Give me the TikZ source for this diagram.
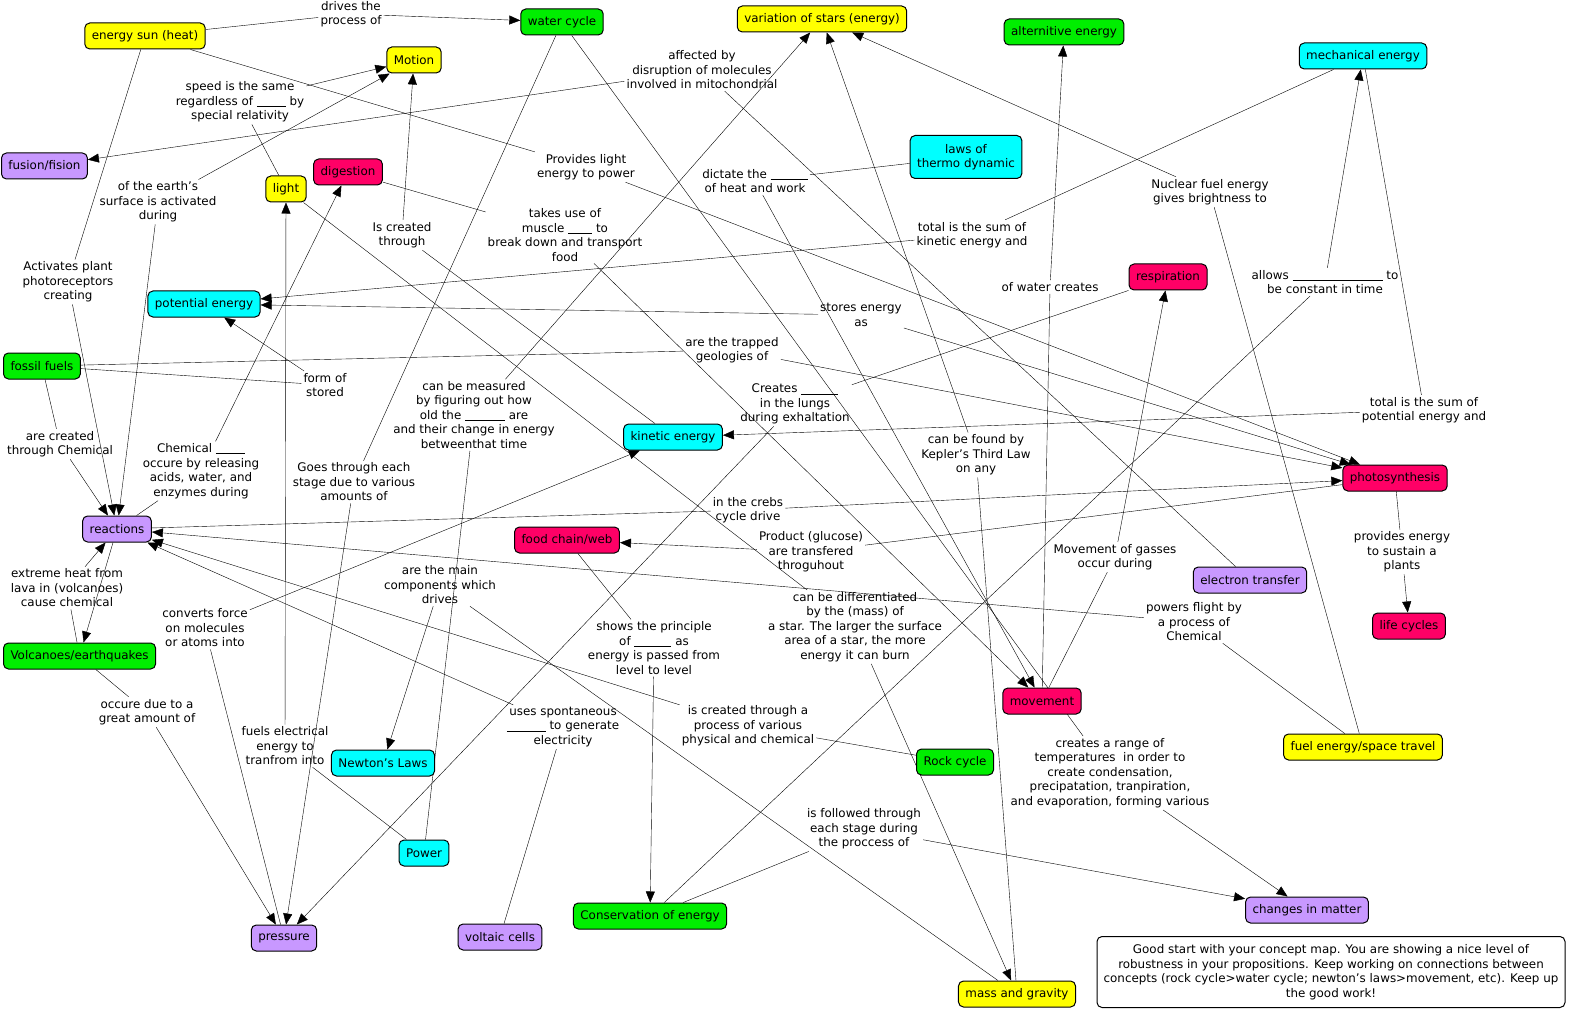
\documentclass[tikz,border=0pt]{standalone}
\usepackage{fontspec}
\setmainfont{DejaVu Sans}
\usetikzlibrary{arrows.meta,backgrounds}
\definecolor{cyellow}{RGB}{255,255,0}
\definecolor{cgreen}{RGB}{0,238,0}
\definecolor{ccyan}{RGB}{0,255,255}
\definecolor{cred}{RGB}{255,0,102}
\definecolor{cpurple}{RGB}{200,152,255}
\newcommand{\fillin}[1]{\rule[-1.5pt]{#1pt}{0.6pt}}
\tikzset{
  concept/.style={draw=black, line width=1pt, rounded corners=5pt, minimum height=26pt, inner xsep=7pt, inner ysep=2pt, align=center, font=\fontsize{11.9pt}{14.5pt}\selectfont},
  phrase/.style={align=center, inner sep=2pt, font=\fontsize{11.9pt}{14.5pt}\selectfont},
  note/.style={draw=black, line width=1pt, rounded corners=5pt, align=center, minimum width=468pt, minimum height=71pt, inner sep=2pt, font=\fontsize{11.9pt}{14.5pt}\selectfont},
  link/.style={line width=1.1pt}
}
\begin{document}
\begin{tikzpicture}[x=1pt, y=-1pt, >={Triangle[length=11pt,width=9pt]}]
\useasboundingbox (0,0) rectangle (1575,1011);
\begin{scope}
  \node [concept, fill=cyellow, name=sun] at (145,36) {energy sun (heat)};
  \node [concept, fill=cgreen, name=water] at (562,22) {water cycle};
  \node [concept, fill=cyellow, name=stars] at (822,19) {variation of stars (energy)};
  \node [concept, fill=cgreen, name=altern] at (1064,32) {alternitive energy};
  \node [concept, fill=ccyan, name=mech] at (1363,56) {mechanical energy};
  \node [concept, fill=cyellow, name=motion] at (414,60) {Motion};
  \node [concept, fill=cpurple, name=fusion, anchor=west] at (1,166) {fusion/fision};
  \node [concept, fill=cyellow, name=light] at (286,189) {light};
  \node [concept, fill=cred, name=digest] at (348,172) {digestion};
  \node [concept, fill=ccyan, name=thermo, minimum height=43pt] at (966,157) {laws of\\thermo dynamic};
  \node [concept, fill=ccyan, name=potential] at (204,304) {potential energy};
  \node [concept, fill=cred, name=resp] at (1168,277) {respiration};
  \node [concept, fill=cgreen, name=fossil, anchor=west] at (3,366) {fossil fuels};
  \node [concept, fill=ccyan, name=kinetic] at (673,437) {kinetic energy};
  \node [concept, fill=cred, name=photo] at (1395,478) {photosynthesis};
  \node [concept, fill=cpurple, name=reactions] at (117,529) {reactions};
  \node [concept, fill=cred, name=food] at (567,540) {food chain/web};
  \node [concept, fill=cpurple, name=electron] at (1250,580) {electron transfer};
  \node [concept, fill=cred, name=life] at (1409,626) {life cycles};
  \node [concept, fill=cgreen, name=volcano, anchor=west] at (3,656) {Volcanoes/earthquakes};
  \node [concept, fill=cred, name=movement] at (1042,701) {movement};
  \node [concept, fill=cgreen, name=rock] at (955,762) {Rock cycle};
  \node [concept, fill=cyellow, name=fuel] at (1363,747) {fuel energy/space travel};
  \node [concept, fill=ccyan, name=newton] at (383,763) {Newton's Laws};
  \node [concept, fill=ccyan, name=power] at (424,853) {Power};
  \node [concept, fill=cpurple, name=pressure] at (284,938) {pressure};
  \node [concept, fill=cpurple, name=voltaic] at (500,937) {voltaic cells};
  \node [concept, fill=cgreen, name=conserv] at (650,916) {Conservation of energy};
  \node [concept, fill=cpurple, name=changes] at (1307,910) {changes in matter};
  \node [concept, fill=cyellow, name=mass] at (1017,994) {mass and gravity};
  \node [note, name=comment] at (1331,972) {Good start with your concept map. You are showing a nice level of\\robustness in your propositions. Keep working on connections between\\concepts (rock cycle>water cycle; newton's laws>movement, etc). Keep up\\the good work!};
\end{scope}
\begin{scope}
  \node [phrase, name=drives] at (351,14) {drives the\\process of};
  \node [phrase, name=speed] at (240,102) {speed is the same\\regardless of \fillin{29} by\\special relativity};
  \node [phrase, name=earth] at (158,202) {of the earth's\\surface is activated\\during};
  \node [phrase, name=activates] at (68,282) {Activates plant\\photoreceptors\\creating};
  \node [phrase, name=affected] at (702,70) {affected by\\disruption of molecules\\involved in mitochondrial};
  \node [phrase, name=provides] at (586,167) {Provides light\\energy to power};
  \node [phrase, name=iscreated] at (402,235) {Is created\\through};
  \node [phrase, name=takesuse] at (565,235) {takes use of\\muscle \fillin{24} to\\break down and transport\\food};
  \node [phrase, name=dictate] at (755,181) {dictate the \fillin{37}\\of heat and work};
  \node [phrase, name=totalkin] at (972,235) {total is the sum of\\kinetic energy and};
  \node [phrase, name=nuclear] at (1210,192) {Nuclear fuel energy\\gives brightness to};
  \node [phrase, name=ofwater] at (1050,287) {of water creates};
  \node [phrase, name=allows] at (1325,282) {allows \fillin{90} to\\be constant in time};
  \node [phrase, name=stores] at (861,315) {stores energy\\as};
  \node [phrase, name=trapped] at (732,350) {are the trapped\\geologies of};
  \node [phrase, name=formof] at (325,385) {form of\\stored};
  \node [phrase, name=measured] at (474,415) {can be measured\\by figuring out how\\old the \fillin{40} are\\and their change in energy\\betweenthat time};
  \node [phrase, name=lungs] at (795,404) {Creates \fillin{37}\\in the lungs\\during exhaltation};
  \node [phrase, name=totalpot] at (1424,410) {total is the sum of\\potential energy and};
  \node [phrase, name=kepler] at (976,455) {can be found by\\Kepler's Third Law\\on any};
  \node [phrase, name=createdchem] at (60,444) {are created\\through Chemical};
  \node [phrase, name=chemical] at (201,471) {Chemical \fillin{29}\\occure by releasing\\acids, water, and\\enzymes during};
  \node [phrase, name=goes] at (354,482) {Goes through each\\stage due to various\\amounts of};
  \node [phrase, name=crebs] at (748,510) {in the crebs\\cycle drive};
  \node [phrase, name=product] at (811,552) {Product (glucose)\\are transfered\\throguhout};
  \node [phrase, name=gasses] at (1115,557) {Movement of gasses\\occur during};
  \node [phrase, name=sustain] at (1402,552) {provides energy\\to sustain a\\plants};
  \node [phrase, name=heat] at (67,588) {extreme heat from\\lava in (volcanoes)\\cause chemical};
  \node [phrase, name=converts] at (205,628) {converts force\\on molecules\\or atoms into};
  \node [phrase, name=maincomp] at (440,585) {are the main\\components which\\drives};
  \node [phrase, name=principle] at (654,648) {shows the principle\\of \fillin{37} as\\energy is passed from\\level to level};
  \node [phrase, name=differ] at (855,627) {can be differentiated\\by the (mass) of\\a star. The larger the surface\\area of a star, the more\\energy it can burn};
  \node [phrase, name=powers] at (1194,622) {powers flight by\\a process of\\Chemical};
  \node [phrase, name=occure] at (147,712) {occure due to a\\great amount of};
  \node [phrase, name=fuels] at (285,746) {fuels electrical\\energy to\\tranfrom into};
  \node [phrase, name=spont] at (563,727) {uses spontaneous\\\fillin{39} to generate\\electricity};
  \node [phrase, name=rockproc] at (748,726) {is created through a\\process of various\\physical and chemical};
  \node [phrase, name=temps] at (1110,773) {creates a range of\\temperatures\ \ in order to\\create condensation,\\precipatation, tranpiration,\\and evaporation, forming various};
  \node [phrase, name=followed] at (864,829) {is followed through\\each stage during\\the proccess of};
\end{scope}
\begin{scope}[on background layer, link]
  \draw [-](sun) -- (drives);
  \draw [->](drives) -- (water);
  \draw [-](light) -- (speed);
  \draw [->](speed) -- (motion);
  \draw [->](earth) -- (motion);
  \draw [->](earth) -- (reactions);
  \draw [-](sun) -- (activates);
  \draw [->](activates) -- (reactions);
  \draw [-](electron) -- (affected);
  \draw [->](affected) -- (fusion);
  \draw [-](sun) -- (provides);
  \draw [->](provides) -- (photo);
  \draw [-](kinetic) -- (iscreated);
  \draw [->](iscreated) -- (motion);
  \draw [-](digest) -- (takesuse);
  \draw [->](takesuse) -- (movement);
  \draw [-](thermo) -- (dictate);
  \draw [->](dictate) -- (movement);
  \draw [-](mech) -- (totalkin);
  \draw [->](totalkin) -- (potential);
  \draw [-](fuel) -- (nuclear);
  \draw [->](nuclear) -- (stars);
  \draw [-](movement) -- (ofwater);
  \draw [->](ofwater) -- (altern);
  \draw [-](conserv) -- (allows);
  \draw [->](allows) -- (mech);
  \draw [->](stores) -- (potential);
  \draw [->](stores) -- (photo);
  \draw [-](fossil) -- (trapped);
  \draw [->](trapped) -- (photo);
  \draw [-](fossil) -- (formof);
  \draw [->](formof) -- (potential);
  \draw [-](power) -- (measured);
  \draw [->](measured) -- (stars);
  \draw [-](resp) -- (lungs);
  \draw [->](lungs) -- (pressure);
  \draw [-](mech) -- (totalpot);
  \draw [->](totalpot) -- (kinetic);
  \draw [-](mass) -- (kepler);
  \draw [->](kepler) -- (stars);
  \draw [-](fossil) -- (createdchem);
  \draw [->](createdchem) -- (reactions);
  \draw [-](reactions) -- (chemical);
  \draw [->](chemical) -- (digest);
  \draw [-](water) -- (goes);
  \draw [->](goes) -- (pressure);
  \draw [-](reactions) -- (crebs);
  \draw [->](crebs) -- (photo);
  \draw [-](photo) -- (product);
  \draw [->](product) -- (food);
  \draw [-](movement) -- (gasses);
  \draw [->](gasses) -- (resp);
  \draw [-](photo) -- (sustain);
  \draw [->](sustain) -- (life);
  \draw [-](volcano) -- (heat);
  \draw [->](heat) -- (reactions);
  \draw [->](reactions) -- (volcano);
  \draw [-](pressure) -- (converts);
  \draw [->](converts) -- (kinetic);
  \draw [-](mass) -- (maincomp);
  \draw [->](maincomp) -- (newton);
  \draw [-](food) -- (principle);
  \draw [->](principle) -- (conserv);
  \draw [-](light) -- (differ);
  \draw [->](differ) -- (mass);
  \draw [-](fuel) -- (powers);
  \draw [->](powers) -- (reactions);
  \draw [-](volcano) -- (occure);
  \draw [->](occure) -- (pressure);
  \draw [-](power) -- (fuels);
  \draw [->](fuels) -- (light);
  \draw [-](voltaic) -- (spont);
  \draw [->](spont) -- (reactions);
  \draw [-](rock) -- (rockproc);
  \draw [->](rockproc) -- (reactions);
  \draw [-](water) -- (temps);
  \draw [->](temps) -- (changes);
  \draw [-](conserv) -- (followed);
  \draw [->](followed) -- (changes);
\end{scope}
\end{tikzpicture}
\end{document}
